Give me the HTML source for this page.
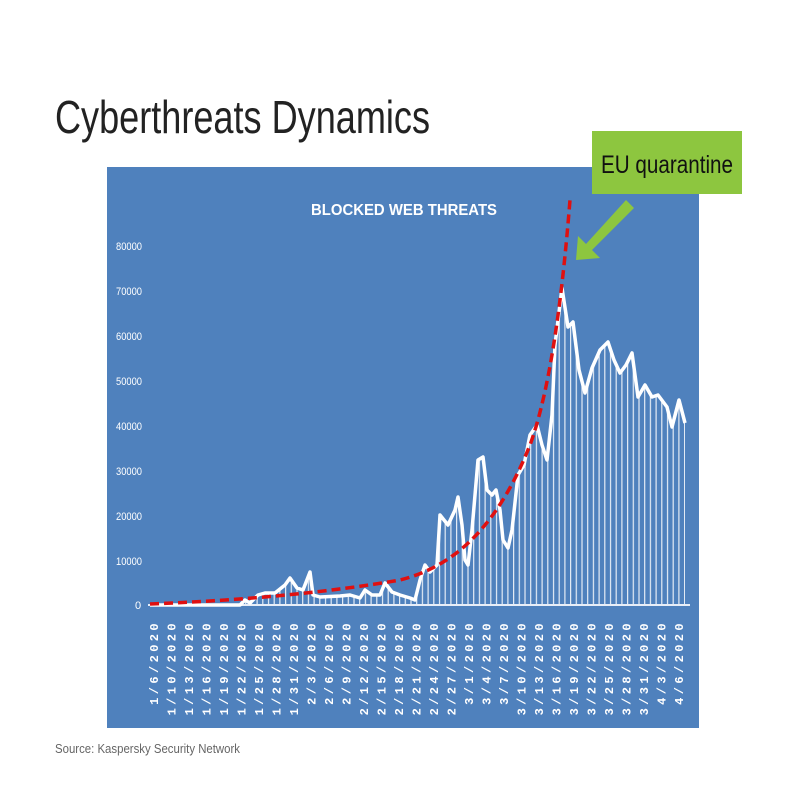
<!DOCTYPE html>
<html><head><meta charset="utf-8"><style>html,body{margin:0;padding:0;background:#fff}</style></head>
<body>
<svg width="800" height="800" viewBox="0 0 800 800" xmlns="http://www.w3.org/2000/svg">
<defs>
<pattern id="st" x="0" y="0" width="5.7" height="10" patternUnits="userSpaceOnUse">
<rect x="0" y="0" width="1.2" height="10" fill="#fff" opacity="0.85"/>
</pattern>
</defs>
<text x="55" y="133" font-family="Liberation Sans, sans-serif" font-size="46" font-weight="300" fill="#222" textLength="375" lengthAdjust="spacingAndGlyphs">Cyberthreats Dynamics</text>
<rect x="107" y="167" width="592" height="561" fill="#4f81bd"/>
<text x="404" y="215" text-anchor="middle" font-family="Liberation Sans, sans-serif" font-size="16" font-weight="bold" fill="#fff" textLength="186" lengthAdjust="spacingAndGlyphs">BLOCKED WEB THREATS</text>
<g font-family="Liberation Sans, sans-serif" font-size="11" fill="#fff">
<text x="116" y="250" textLength="26" lengthAdjust="spacingAndGlyphs">80000</text><text x="116" y="295" textLength="26" lengthAdjust="spacingAndGlyphs">70000</text><text x="116" y="340" textLength="26" lengthAdjust="spacingAndGlyphs">60000</text><text x="116" y="385" textLength="26" lengthAdjust="spacingAndGlyphs">50000</text><text x="116" y="430" textLength="26" lengthAdjust="spacingAndGlyphs">40000</text><text x="116" y="475" textLength="26" lengthAdjust="spacingAndGlyphs">30000</text><text x="116" y="520" textLength="26" lengthAdjust="spacingAndGlyphs">20000</text><text x="116" y="565" textLength="26" lengthAdjust="spacingAndGlyphs">10000</text><text x="135" y="609">0</text>
</g>
<polygon fill="url(#st)" points="190,605 240,605 245,600 250,603 258,595 265,593 275,593 285,585 290,578 297,588 303,590 310,572 313,595 320,597 340,596 350,595 360,598 365,590 372,595 380,595 385,583 392,592 400,595 410,598 415,600 420,580 425,565 430,572 437,565 440,515 448,525 455,510 458,497 462,525 465,560 468,565 472,530 478,460 483,457 487,490 492,495 496,490 500,510 503,540 508,548 512,530 518,475 524,465 530,435 537,425 542,445 547,460 552,415 555,345 562,288 568,327 573,322 579,370 585,393 592,368 600,350 608,342 614,360 620,373 626,365 632,353 638,397 645,385 652,397 658,395 667,407 672,427 679,400 685,423 685,605"/>
<line x1="148" y1="605" x2="690" y2="605" stroke="#e8eef8" stroke-width="2"/>
<polyline fill="none" stroke="#fff" stroke-width="3.5" stroke-linejoin="round" points="150,605 240,605 245,600 250,603 258,595 265,593 275,593 285,585 290,578 297,588 303,590 310,572 313,595 320,597 340,596 350,595 360,598 365,590 372,595 380,595 385,583 392,592 400,595 410,598 415,600 420,580 425,565 430,572 437,565 440,515 448,525 455,510 458,497 462,525 465,560 468,565 472,530 478,460 483,457 487,490 492,495 496,490 500,510 503,540 508,548 512,530 518,475 524,465 530,435 537,425 542,445 547,460 552,415 555,345 562,288 568,327 573,322 579,370 585,393 592,368 600,350 608,342 614,360 620,373 626,365 632,353 638,397 645,385 652,397 658,395 667,407 672,427 679,400 685,423"/>
<path d="M150,604 C250,600 330,592 400,580 C460,565 500,520 530,445 C550,390 562,300 570,200" fill="none" stroke="#e01010" stroke-width="3.5" stroke-dasharray="9,5"/>
<g font-family="Liberation Mono, monospace" font-size="12" font-weight="bold" fill="#fff" letter-spacing="3.4">
<text transform="translate(158,620) rotate(-90)" text-anchor="end">1/6/2020</text>
<text transform="translate(175.5,620) rotate(-90)" text-anchor="end">1/10/2020</text>
<text transform="translate(193,620) rotate(-90)" text-anchor="end">1/13/2020</text>
<text transform="translate(210.5,620) rotate(-90)" text-anchor="end">1/16/2020</text>
<text transform="translate(228,620) rotate(-90)" text-anchor="end">1/19/2020</text>
<text transform="translate(245.5,620) rotate(-90)" text-anchor="end">1/22/2020</text>
<text transform="translate(263,620) rotate(-90)" text-anchor="end">1/25/2020</text>
<text transform="translate(280.5,620) rotate(-90)" text-anchor="end">1/28/2020</text>
<text transform="translate(298,620) rotate(-90)" text-anchor="end">1/31/2020</text>
<text transform="translate(315.5,620) rotate(-90)" text-anchor="end">2/3/2020</text>
<text transform="translate(333,620) rotate(-90)" text-anchor="end">2/6/2020</text>
<text transform="translate(350.5,620) rotate(-90)" text-anchor="end">2/9/2020</text>
<text transform="translate(368,620) rotate(-90)" text-anchor="end">2/12/2020</text>
<text transform="translate(385.5,620) rotate(-90)" text-anchor="end">2/15/2020</text>
<text transform="translate(403,620) rotate(-90)" text-anchor="end">2/18/2020</text>
<text transform="translate(420.5,620) rotate(-90)" text-anchor="end">2/21/2020</text>
<text transform="translate(438,620) rotate(-90)" text-anchor="end">2/24/2020</text>
<text transform="translate(455.5,620) rotate(-90)" text-anchor="end">2/27/2020</text>
<text transform="translate(473,620) rotate(-90)" text-anchor="end">3/1/2020</text>
<text transform="translate(490.5,620) rotate(-90)" text-anchor="end">3/4/2020</text>
<text transform="translate(508,620) rotate(-90)" text-anchor="end">3/7/2020</text>
<text transform="translate(525.5,620) rotate(-90)" text-anchor="end">3/10/2020</text>
<text transform="translate(543,620) rotate(-90)" text-anchor="end">3/13/2020</text>
<text transform="translate(560.5,620) rotate(-90)" text-anchor="end">3/16/2020</text>
<text transform="translate(578,620) rotate(-90)" text-anchor="end">3/19/2020</text>
<text transform="translate(595.5,620) rotate(-90)" text-anchor="end">3/22/2020</text>
<text transform="translate(613,620) rotate(-90)" text-anchor="end">3/25/2020</text>
<text transform="translate(630.5,620) rotate(-90)" text-anchor="end">3/28/2020</text>
<text transform="translate(648,620) rotate(-90)" text-anchor="end">3/31/2020</text>
<text transform="translate(665.5,620) rotate(-90)" text-anchor="end">4/3/2020</text>
<text transform="translate(683,620) rotate(-90)" text-anchor="end">4/6/2020</text>
</g>
<rect x="592" y="131" width="150" height="63" fill="#8dc63f"/>
<text x="667" y="173" text-anchor="middle" font-family="Liberation Sans, sans-serif" font-size="25" fill="#111" textLength="132" lengthAdjust="spacingAndGlyphs">EU quarantine</text>
<polygon fill="#8dc63f" points="626,200 634,208 592,250 600,258 576,260 578,236 586,244"/>
<text x="55" y="753" font-family="Liberation Sans, sans-serif" font-size="13" fill="#666" textLength="185" lengthAdjust="spacingAndGlyphs">Source: Kaspersky Security Network</text>
</svg>
</body></html>
